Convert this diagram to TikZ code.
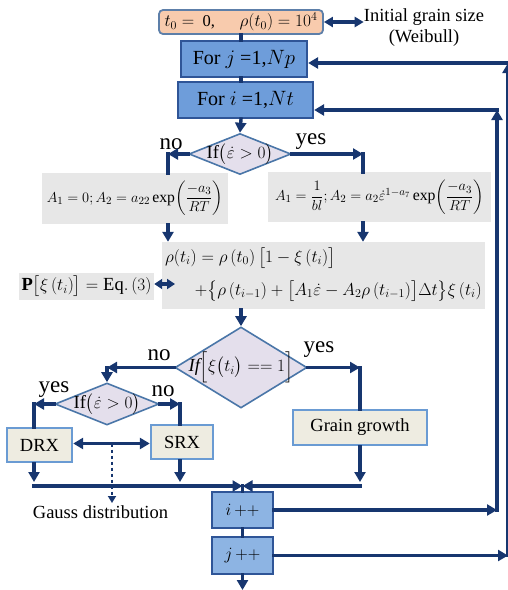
\documentclass[tikz,border=0pt]{standalone}
\usepackage{amsmath}
\usepackage{fontspec}
\setmainfont{Liberation Serif}
\usetikzlibrary{arrows.meta,shapes.geometric,calc}
\definecolor{navy}{HTML}{17366F}
\definecolor{forfill}{HTML}{6E9DDA}
\definecolor{incfill}{HTML}{8DB4E3}
\definecolor{darkedge}{HTML}{2F5597}
\definecolor{lav}{HTML}{E4DFEC}
\definecolor{diaedge}{HTML}{4A76A8}
\definecolor{greyfill}{HTML}{E7E7E7}
\definecolor{beige}{HTML}{EEECE1}
\definecolor{beigeedge}{HTML}{6A9BD3}
\definecolor{peach}{HTML}{F8CBAD}
\definecolor{peachedge}{HTML}{5D7FA9}
\begin{document}
\begin{tikzpicture}[x=1pt,y=-1pt,
  ln/.style={draw=navy,line width=3.4pt,line cap=rect},
  arr/.style={ln,-{Triangle[length=10pt,width=11pt]}},
  darr/.style={ln,{Triangle[length=10pt,width=11pt]}-{Triangle[length=10pt,width=11pt]}},
  base/.style={font=\fontsize{18.5}{21}\selectfont, inner sep=0pt, align=center},
  mth/.style={font=\fontsize{16.5}{20}\selectfont, inner sep=0pt, align=center},
  lab/.style={font=\fontsize{23}{26}\selectfont, inner sep=0pt},
  initbox/.style={rectangle, rounded corners=4pt, fill=peach, draw=peachedge, line width=1.8pt},
  forbox/.style={base, rectangle, fill=forfill, draw=darkedge, line width=2.2pt},
  incbox/.style={forbox, fill=incfill},
  cond/.style={diamond, inner sep=0pt, fill=lav, draw=diaedge, line width=1.6pt},
  greybox/.style={fill=greyfill},
  beigebox/.style={base, fill=beige, draw=beigeedge, line width=2.4pt}
]
\useasboundingbox (0,0) rectangle (508,590);
% nodes
\node[initbox, minimum width=164, minimum height=24] (init) at (241,22) {};
\node[mth] (initt) at (init) {$t_0 =$\ \ 0,\quad\ \ $\rho(t_0)=10^4$};
\node[base] (note) at (424,28) {Initial grain size\\(Weibull)};
\node[forbox, font=\fontsize{20}{22}\selectfont, minimum width=126, minimum height=36] (forj) at (244,59) {For $j$ =1,$Np$};
\node[forbox, font=\fontsize{20}{22}\selectfont, minimum width=135, minimum height=36] (fori) at (245.5,100) {For $i$ =1,$Nt$};
\node[cond, minimum width=102, minimum height=41] (d1) at (240,154) {};
\node[base] (d1t) at (d1) {If$\bigl(\dot\varepsilon>0\bigr)$};
\node[greybox, minimum width=186, minimum height=51] (bL) at (135,198.5) {};
\node[mth, font=\fontsize{15.7}{18}\selectfont] (bLt) at (bL) {$A_1=0;A_2=a_{22}\exp\!\left(\dfrac{-a_3}{RT}\right)$};
\node[greybox, minimum width=223, minimum height=50] (bR) at (379.5,197) {};
\node[mth, font=\fontsize{15.8}{18}\selectfont] (bRt) at (bR) {$A_1=\dfrac{1}{bl};A_2=a_2\dot\varepsilon^{1-a_7}\exp\!\left(\dfrac{-a_3}{RT}\right)$};
\node[greybox, minimum width=323, minimum height=67] (big) at (323.5,275.5) {};
\node[base, anchor=west] (bigA) at (165,258) {$\rho(t_i)=\rho\left(t_0\right)\bigl[1-\xi\left(t_i\right)\bigr]$};
\node[mth, anchor=east] (bigB) at (482,291) {$+\bigl\{\rho\left(t_{i-1}\right)+\bigl[A_1\dot\varepsilon-A_2\rho\left(t_{i-1}\right)\bigr]\Delta t\bigr\}\xi\left(t_i\right)$};
\node[greybox, minimum width=135, minimum height=27] (pb) at (86.5,286.5) {};
\node[base] (pbt) at (pb) {$\mathbf{P}\bigl[\xi\left(t_i\right)\bigr]=\mathrm{Eq.}\left(3\right)$};
\node[cond, minimum width=132, minimum height=81] (d2) at (241,367.5) {};
\node[base] (d2t) at (d2) {$\mathit{If}\Big[\xi\bigl(t_i\bigr)==1\Big]$};
\node[cond, minimum width=104, minimum height=42] (d3) at (107,404) {};
\node[base] (d3t) at (d3) {If$\bigl(\dot\varepsilon>0\bigr)$};
\node[beigebox, minimum width=134, minimum height=35] (gg) at (360,427.5) {Grain growth};
\node[beigebox, minimum width=65, minimum height=34] (drx) at (39.5,445) {DRX};
\node[beigebox, minimum width=62, minimum height=34] (srx) at (182,442) {SRX};
\node[incbox, minimum width=61, minimum height=36] (ipp) at (242.5,510) {$i\,{+}{+}$};
\node[incbox, minimum width=61, minimum height=37] (jpp) at (242.5,555.5) {$j\,{+}{+}$};
\node[base] (gauss) at (100.5,512) {Gauss distribution};
% labels
\node[lab] (no1) at (171,144) {no};
\node[lab] (yes1) at (311,142) {yes};
\node[lab] (no2) at (159,355) {no};
\node[lab] (yes2) at (319,350) {yes};
\node[lab] (yes3) at (54,390) {yes};
\node[lab] (no3) at (163,391) {no};
% coordinates
\coordinate (c1) at (168,154);
\coordinate (c2) at (363,154);
\coordinate (cp) at (175,284);
\coordinate (c3) at (107,367.5);
\coordinate (c4) at (360,367.5);
\coordinate (c5) at (34,404);
\coordinate (c6) at (180,404);
\coordinate (m) at (112,443.5);
\coordinate (g1) at (112,503);
\coordinate (r1) at (34,482);
\coordinate (r2) at (180,482);
\coordinate (r3) at (360,482);
\coordinate (h1) at (34,486);
\coordinate (mg) at (242.5,486);
\coordinate (h3) at (360,486);
\coordinate (l1) at (497,510);
\coordinate (l2) at (497,110);
\coordinate (k1) at (508,555.5);
\coordinate (k2) at (508,63);
\coordinate (bot) at (242.5,590);
% connectors
\draw[ln,{Triangle[length=9pt,width=10pt]}-{Triangle[length=9pt,width=10pt]}] (init.east) -- (init.east -| note.west);
\draw[ln] (init.south) -- (init.south |- forj.north);
\draw[ln] (init.south |- forj.south) -- (init.south |- fori.north);
\draw[arr] (init.south |- fori.south) -- (d1.north);
\draw[arr] (d1.west) -- (c1);
\draw[ln] (c1) -- (c1 |- bL.north);
\draw[arr] (d1.east) -- (c2);
\draw[ln] (c2) -- (c2 |- bR.north);
\draw[arr] (bL.south -| c1) -- (big.north -| c1);
\draw[arr] (bR.south -| c2) -- (big.north -| c2);
\draw[ln,{Triangle[length=8pt,width=10pt]}-{Triangle[length=8pt,width=10pt]}] (pb.east |- cp) -- (cp);
\draw[arr] (big.south -| d2.north) -- (d2.north);
\draw[arr] (d2.west) -- (c3);
\draw[arr] (c3) -- (d3.north);
\draw[arr] (d2.east) -- (c4);
\draw[ln] (c4) -- (gg.north);
\draw[arr] (d3.west) -- (c5);
\draw[ln] (c5) -- (c5 |- drx.north);
\draw[arr] (d3.east) -- (c6);
\draw[ln] (c6) -- (c6 |- srx.north);
\draw[darr] (drx.east |- m) -- (srx.west |- m);
\draw[draw=navy, line width=1.8pt, dashed, -{Triangle[length=7pt,width=8pt]}] (m) -- (g1);
\draw[arr] (drx.south -| c5) -- (r1);
\draw[arr] (srx.south -| c6) -- (r2);
\draw[arr] (gg.south) -- (r3);
\draw[arr] (h1) -- (mg);
\draw[arr] (h3) -- (mg);
\draw[ln] (mg) -- (ipp.north);
\draw[ln] (ipp.south) -- (jpp.north);
\draw[arr] (jpp.south) -- (bot);
\draw[arr] (ipp.east) -- (l1);
\draw[arr] (l1) -- (l2);
\draw[arr] (l2) -- (fori.east |- l2);
\draw[arr] (jpp.east) -- (k1);
\draw[arr] (k1) -- (k2);
\draw[arr] (k2) -- (forj.east |- k2);
\end{tikzpicture}
\end{document}
